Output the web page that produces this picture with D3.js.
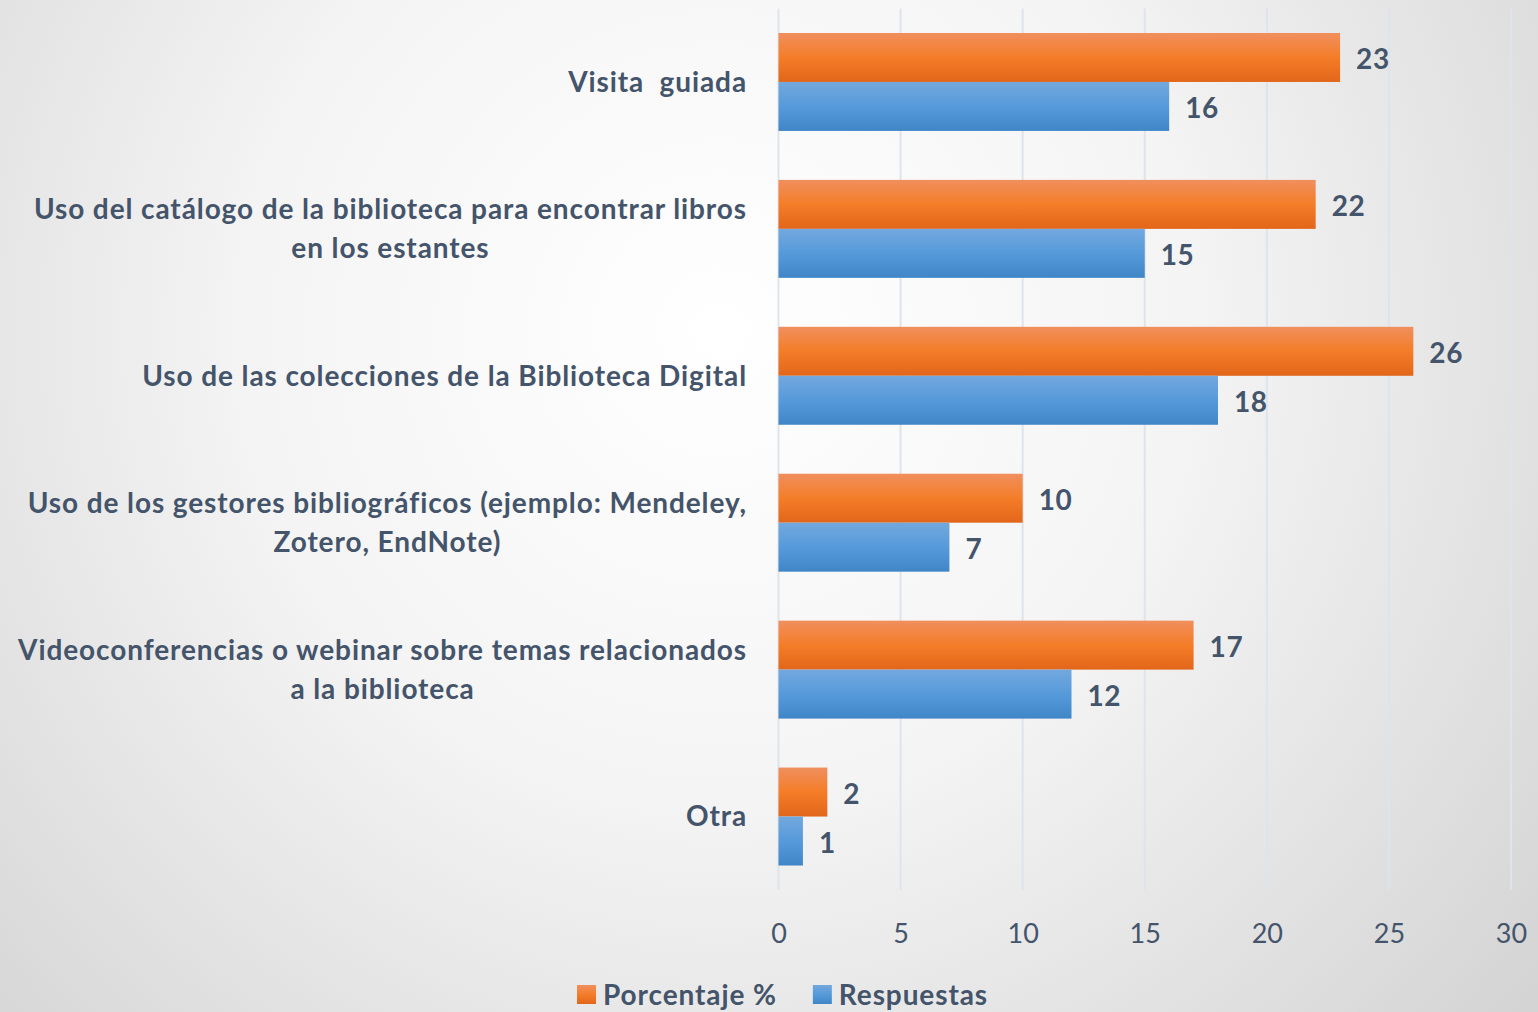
<!DOCTYPE html>
<html>
<head>
<meta charset="utf-8">
<script src="https://cdn.jsdelivr.net/npm/d3@7"></script>
<style>
  html, body { margin: 0; padding: 0; }
  body { width: 1538px; height: 1012px; overflow: hidden; }
  svg { display: block; font-family: Lato, "Open Sans", sans-serif; }
  .lbl { white-space: pre; }
</style>
</head>
<body>
<div id="chart"></div>
<script>
// categories, top to bottom (line breaks as in the original)
var categories = [
  "Visita  guiada",
  "Uso del catálogo de la biblioteca para encontrar libros\nen los estantes",
  "Uso de las colecciones de la Biblioteca Digital",
  "Uso de los gestores bibliográficos (ejemplo: Mendeley,\nZotero, EndNote)",
  "Videoconferencias o webinar sobre temas relacionados\na la biblioteca",
  "Otra"
];
var porcentaje = [23, 22, 26, 10, 17, 2];
var respuestas = [16, 15, 18, 7, 12, 1];
var seriesNames = ["Porcentaje %", "Respuestas"];
var xTicks = [0, 5, 10, 15, 20, 25, 30];

var W = 1538, H = 1012;
var margin = {left: 778.5, right: 27, top: 8.5, bottom: 122};
var textCol = "#44546a";

var svg = d3.select("#chart").append("svg")
  .attr("width", W).attr("height", H);

var defs = svg.append("defs");
var bg = defs.append("radialGradient").attr("id", "bg")
  .attr("gradientUnits", "userSpaceOnUse")
  .attr("cx", 720).attr("cy", 330).attr("r", 1050);
bg.append("stop").attr("offset", "0").attr("stop-color", "#ffffff");
bg.append("stop").attr("offset", "0.45").attr("stop-color", "#f4f4f4");
bg.append("stop").attr("offset", "1").attr("stop-color", "#d4d4d4");

function barGrad(id, c1, c2, c3) {
  var g = defs.append("linearGradient").attr("id", id)
    .attr("x1", 0).attr("y1", 0).attr("x2", 0).attr("y2", 1);
  g.append("stop").attr("offset", "0").attr("stop-color", c1);
  g.append("stop").attr("offset", "0.5").attr("stop-color", c2);
  g.append("stop").attr("offset", "1").attr("stop-color", c3);
}
barGrad("gOrange", "#f08f5e", "#f47d28", "#e2661a");
barGrad("gBlue", "#73a8de", "#569ada", "#4086c7");

svg.append("rect").attr("width", W).attr("height", H).attr("fill", "url(#bg)");

var x = d3.scaleLinear().domain([0, 30]).range([margin.left, W - margin.right]);
var y = d3.scaleBand().domain(d3.range(categories.length))
  .range([margin.top, H - margin.bottom]).paddingInner(0).paddingOuter(0);
var inner = d3.scaleBand().domain([0, 1]).range([0, y.bandwidth()])
  .paddingInner(0).paddingOuter(0.5);

// gridlines
svg.append("g").selectAll("line").data(xTicks).join("line")
  .attr("x1", function(d){ return x(d); }).attr("x2", function(d){ return x(d); })
  .attr("y1", margin.top).attr("y2", H - margin.bottom)
  .attr("stroke", "#dfe3ea").attr("stroke-width", 2);

// x axis labels
var xAxis = d3.axisBottom(x).tickValues(xTicks).tickSize(0).tickPadding(0);
var ax = svg.append("g").attr("transform", "translate(0," + (H - margin.bottom) + ")").call(xAxis);
ax.select(".domain").remove();
ax.selectAll("text").attr("dy", null).attr("y", 53)
  .attr("fill", textCol).style("font-size", "27px").style("font-family", "Lato, sans-serif");

var series = [
  {name: seriesNames[0], values: porcentaje, fill: "url(#gOrange)"},
  {name: seriesNames[1], values: respuestas, fill: "url(#gBlue)"}
];

series.forEach(function(s, si) {
  var g = svg.append("g");
  g.selectAll("rect").data(s.values).join("rect")
    .attr("x", x(0))
    .attr("y", function(d, i){ return y(i) + inner(si); })
    .attr("width", function(d){ return x(d) - x(0); })
    .attr("height", inner.bandwidth())
    .attr("fill", s.fill);
  g.selectAll("text").data(s.values).join("text")
    .attr("x", function(d){ return x(d) + 16; })
    .attr("y", function(d, i){ return y(i) + inner(si) + inner.bandwidth() / 2 + 2; })
    .attr("dy", "0.35em")
    .attr("fill", textCol).style("font-size", "28px").style("font-weight", 700)
    .style("letter-spacing", "0.6px")
    .text(function(d){ return d; });
});

// category labels
var lab = svg.append("g");
categories.forEach(function(c, i) {
  var lines = c.split("\n");
  var cy = y(i) + y.bandwidth() / 2;
  var lh = 39;
  var t = lab.append("text").attr("class", "lbl")
    .attr("fill", textCol).style("font-size", "28px").style("font-weight", 700)
    .style("letter-spacing", "0.9px")
    .attr("text-anchor", lines.length > 1 ? "middle" : "end");
  lines.forEach(function(l, li) {
    t.append("tspan").text(l)
      .attr("dy", "0.35em")
      .attr("y", cy + (li - (lines.length - 1) / 2) * lh);
  });
  if (lines.length > 1) {
    // centre multi-line block on the widest line, right aligned at 747
    var wMax = d3.max(t.selectAll("tspan").nodes(), function(n){ return n.getComputedTextLength(); });
    t.selectAll("tspan").attr("x", 747 - wMax / 2);
  } else {
    t.selectAll("tspan").attr("x", 747);
  }
});

// legend
var leg = svg.append("g").attr("transform", "translate(577,995)");
var lx = 0;
series.forEach(function(s, si) {
  var g = leg.append("g").attr("transform", "translate(" + lx + ",0)");
  g.append("rect").attr("x", 0).attr("y", -10).attr("width", 19).attr("height", 19).attr("fill", s.fill);
  var t = g.append("text").attr("x", 26).attr("dy", "0.35em")
    .attr("fill", textCol).style("font-size", "28px").style("font-weight", 700)
    .style("letter-spacing", "0.9px")
    .text(s.name);
  lx += 26 + t.node().getComputedTextLength() + 36;
});
</script>
</body>
</html>
